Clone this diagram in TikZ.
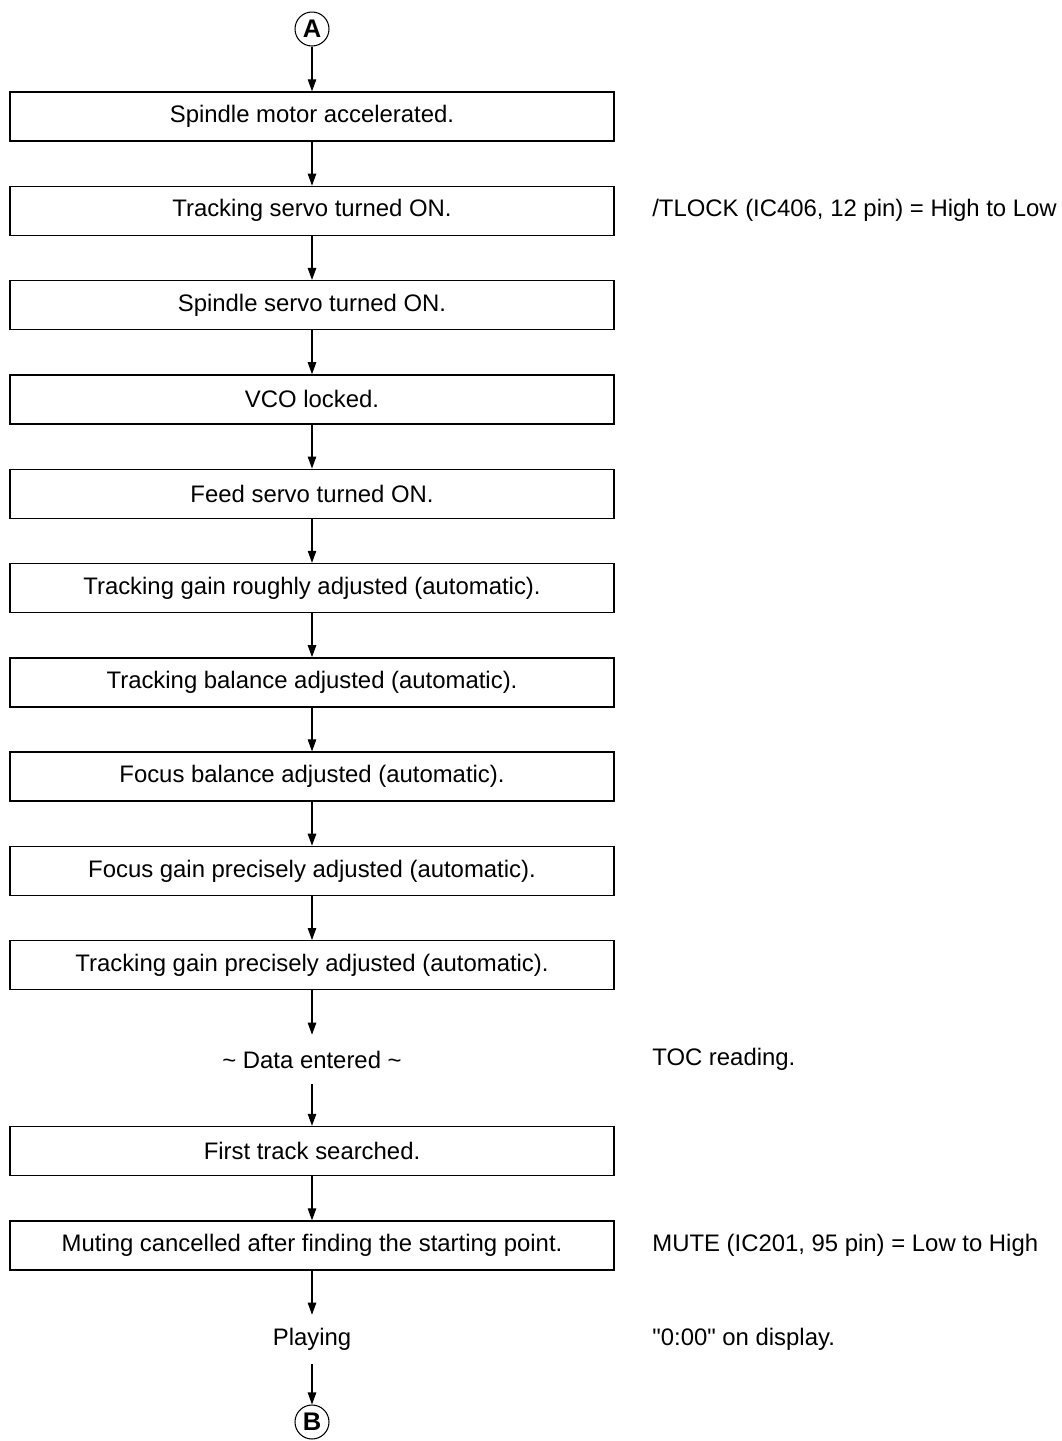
\documentclass[tikz,border=0pt]{standalone}
\usepackage{fontspec}
\setmainfont{Liberation Sans}
\usetikzlibrary{arrows.meta}

\begin{document}
\begin{tikzpicture}[x=0.02cm, y=-0.02cm,
    every node/.style={font=\fontsize{13.6}{16}\selectfont},
    stepbox/.style={draw, line width=0.8pt, minimum width=12.08cm, minimum height=0.98cm, inner sep=0pt},
    plain/.style={minimum height=0.98cm, inner sep=0pt},
    note/.style={anchor=west, inner sep=0pt},
    conn/.style={draw, circle, line width=0.6pt, minimum size=0.68cm, inner sep=0pt, font=\fontsize{14.5}{16}\selectfont\bfseries},
    flow/.style={-{Triangle[length=0.24cm,width=0.17cm]}, line width=0.6pt}]
    \useasboundingbox (0,0) rectangle (1062,1441);

    % Connectors
    \node[conn] (A) at (312,29) {A};
    \node[conn] (B) at (312,1422) {B};

    % Steps
    \node[stepbox] (s1) at (312,116.5) {Spindle motor accelerated.};
    \node[stepbox] (s2) at (312,210.8) {Tracking servo turned ON.};
    \node[stepbox] (s3) at (312,305.1) {Spindle servo turned ON.};
    \node[stepbox] (s4) at (312,399.4) {VCO locked.};
    \node[stepbox] (s5) at (312,493.7) {Feed servo turned ON.};
    \node[stepbox] (s6) at (312,588) {Tracking gain roughly adjusted (automatic).};
    \node[stepbox] (s7) at (312,682.3) {Tracking balance adjusted (automatic).};
    \node[stepbox] (s8) at (312,776.6) {Focus balance adjusted (automatic).};
    \node[stepbox] (s9) at (312,870.9) {Focus gain precisely adjusted (automatic).};
    \node[stepbox] (s10) at (312,965.2) {Tracking gain precisely adjusted (automatic).};
    \node[plain] (data) at (312,1059.5) {\textasciitilde{} Data entered \textasciitilde{}};
    \node[stepbox] (s11) at (312,1151) {First track searched.};
    \node[stepbox] (s12) at (312,1245.5) {Muting cancelled after finding the starting point.};
    \node[plain] (play) at (312,1339.5) {Playing};

    % Notes
    \node[note] (n1) at (652,210.8) {/TLOCK (IC406, 12 pin) = High to Low};
    \node[note] (n2) at (652,1059.5) {TOC reading.};
    \node[note] (n3) at (652,1245.5) {MUTE (IC201, 95 pin) = Low to High};
    \node[note] (n4) at (652,1339.5) {\textquotedbl 0:00\textquotedbl{} on display.};

    % Flow
    \draw[flow] (A) -- (s1);
    \draw[flow] (s1) -- (s2);
    \draw[flow] (s2) -- (s3);
    \draw[flow] (s3) -- (s4);
    \draw[flow] (s4) -- (s5);
    \draw[flow] (s5) -- (s6);
    \draw[flow] (s6) -- (s7);
    \draw[flow] (s7) -- (s8);
    \draw[flow] (s8) -- (s9);
    \draw[flow] (s9) -- (s10);
    \draw[flow] (s10) -- (data);
    \draw[flow] (data) -- (s11);
    \draw[flow] (s11) -- (s12);
    \draw[flow] (s12) -- (play);
    \draw[flow] (play) -- (B);
\end{tikzpicture}
\end{document}
